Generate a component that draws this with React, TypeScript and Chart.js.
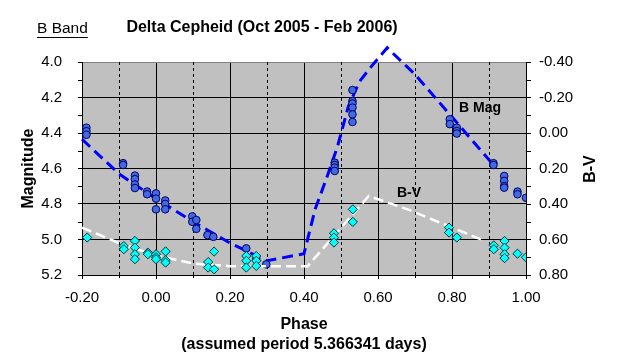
import React, { useEffect, useRef } from "react";
import { Chart, registerables } from "chart.js";

Chart.register(...registerables);

// ---- Data ----
const bMagPhase = [
  -0.188, -0.188, -0.188,
  -0.089, -0.089,
  -0.057, -0.057, -0.057, -0.057,
  -0.024, -0.024,
  0.0, 0.0, 0.0,
  0.025, 0.025, 0.025,
  0.098, 0.098,
  0.109, 0.109,
  0.139, 0.155,
  0.244, 0.271, 0.298,
  0.483, 0.483, 0.483, 0.483,
  0.531, 0.531, 0.531, 0.531, 0.531, 0.531,
  0.794, 0.794,
  0.813, 0.813, 0.813,
  0.912, 0.912,
  0.941, 0.941, 0.941, 0.941,
  0.977, 0.977,
  1.0,
];
const bMagValues = [
  4.37, 4.39, 4.41,
  4.57, 4.58,
  4.64, 4.66, 4.69, 4.71,
  4.73, 4.745,
  4.74, 4.77, 4.83,
  4.78, 4.8, 4.83,
  4.87, 4.9,
  4.89, 4.94,
  4.975, 4.985,
  5.05, 5.11, 5.14,
  4.567, 4.58, 4.595, 4.614,
  4.158, 4.22, 4.234, 4.257, 4.295, 4.338,
  4.323, 4.35,
  4.37, 4.389, 4.403,
  4.57, 4.58,
  4.642, 4.67, 4.699, 4.708,
  4.73, 4.745,
  4.765,
];

const bvPhase = [
  -0.186,
  -0.087, -0.087,
  -0.057, -0.057, -0.057, -0.057,
  -0.022, -0.022,
  0.0, 0.0, 0.0,
  0.026, 0.026, 0.026,
  0.141, 0.141,
  0.157, 0.157,
  0.244, 0.244, 0.244,
  0.271, 0.271, 0.271,
  0.481, 0.481, 0.481,
  0.532, 0.532,
  0.792, 0.792,
  0.813,
  0.913, 0.913,
  0.942, 0.942, 0.942, 0.942,
  0.977,
  1.0,
];
const bvValues = [
  0.589,
  0.637, 0.655,
  0.608, 0.646, 0.683, 0.711,
  0.674, 0.683,
  0.683, 0.7, 0.711,
  0.667, 0.717, 0.73,
  0.727, 0.758,
  0.668, 0.768,
  0.693, 0.72, 0.758,
  0.693, 0.72, 0.749,
  0.565, 0.589, 0.617,
  0.43, 0.501,
  0.533, 0.561,
  0.589,
  0.633, 0.655,
  0.608, 0.646, 0.683, 0.705,
  0.68,
  0.7,
];

// model curves (dashed lines)
const bModelPhase = [-0.2, -0.1, 0.0, 0.1, 0.2, 0.25, 0.3, 0.4, 0.43, 0.46, 0.49, 0.52, 0.55, 0.58, 0.625, 0.7, 0.8, 0.912];
const bModelValues = [4.435, 4.63, 4.77, 4.9, 5.02, 5.07, 5.12, 5.08, 4.83, 4.66, 4.48, 4.25, 4.11, 4.03, 3.92, 4.07, 4.31, 4.58];

const bvModelPhase = [-0.2, -0.1, 0.0, 0.1, 0.2, 0.41, 0.575, 0.68, 0.885];
const bvModelValues = [0.533, 0.62, 0.69, 0.735, 0.75, 0.75, 0.355, 0.43, 0.605];

const xMajorTicks = [-0.2, 0.0, 0.2, 0.4, 0.6, 0.8, 1.0];
const xDashedLines = [-0.1, 0.1, 0.3, 0.5, 0.7, 0.9];
const yMajorTicks = [4.0, 4.2, 4.4, 4.6, 4.8, 5.0, 5.2];
const yMinorTicks = [4.1, 4.3, 4.5, 4.7, 4.9, 5.1];
const y2MajorTicks = [-0.4, -0.2, 0.0, 0.2, 0.4, 0.6, 0.8];
const y2MinorTicks = [-0.3, -0.1, 0.1, 0.3, 0.5, 0.7];

const FONT = "'Liberation Sans', Arial, sans-serif";

const pts = (xs: number[], ys: number[]) => xs.map((x, i) => ({ x, y: ys[i] }));

const fmt = (v: number, d: number) => {
  const r = Math.abs(v) < 1e-9 ? 0 : v;
  return r.toFixed(d);
};

const decorPlugin = {
  id: "decor",
  beforeDraw(chart: any) {
    const { ctx, chartArea } = chart;
    ctx.save();
    ctx.fillStyle = "#ffffff";
    ctx.fillRect(0, 0, chart.width, chart.height);
    ctx.fillStyle = "#c0c0c0";
    ctx.fillRect(chartArea.left, chartArea.top, chartArea.right - chartArea.left, chartArea.bottom - chartArea.top);
    ctx.restore();
  },
  beforeDatasetsDraw(chart: any) {
    const { ctx, chartArea, scales } = chart;
    const xs = scales.x;
    const ys = scales.y;
    const y2s = scales.y2;
    ctx.save();
    ctx.strokeStyle = "#000000";
    ctx.lineWidth = 1;
    ctx.setLineDash([3, 3]);
    for (const v of xDashedLines) {
      const px = Math.round(xs.getPixelForValue(v)) + 0.5;
      ctx.beginPath();
      ctx.moveTo(px, chartArea.top);
      ctx.lineTo(px, chartArea.bottom);
      ctx.stroke();
    }
    ctx.setLineDash([]);
    for (const v of xDashedLines) {
      const px = Math.round(xs.getPixelForValue(v)) + 0.5;
      ctx.beginPath();
      ctx.moveTo(px, chartArea.bottom);
      ctx.lineTo(px, chartArea.bottom + 3);
      ctx.stroke();
    }
    for (const v of yMinorTicks) {
      const py = Math.round(ys.getPixelForValue(v)) + 0.5;
      ctx.beginPath();
      ctx.moveTo(chartArea.left - 4, py);
      ctx.lineTo(chartArea.left, py);
      ctx.stroke();
    }
    for (const v of y2MinorTicks) {
      const py = Math.round(y2s.getPixelForValue(v)) + 0.5;
      ctx.beginPath();
      ctx.moveTo(chartArea.right, py);
      ctx.lineTo(chartArea.right + 5, py);
      ctx.stroke();
    }
    ctx.restore();
  },
  afterDraw(chart: any) {
    const { ctx } = chart;
    ctx.save();
    ctx.fillStyle = "#000000";
    ctx.textBaseline = "middle";
    ctx.textAlign = "center";
    ctx.font = `bold 16px ${FONT}`;
    ctx.fillText("Delta Cepheid (Oct 2005 - Feb 2006)", 262, 28);
    ctx.textAlign = "left";
    ctx.font = `15.5px ${FONT}`;
    ctx.fillText("B Band", 37, 29);
    const w = ctx.measureText("B Band").width;
    ctx.fillRect(37, 37, w, 1);
    ctx.textAlign = "center";
    ctx.font = `bold 14px ${FONT}`;
    ctx.fillText("B Mag", 480, 108);
    ctx.fillText("B-V", 409, 193);
    ctx.translate(591, 169);
    ctx.rotate(-Math.PI / 2);
    ctx.font = `bold 16px ${FONT}`;
    ctx.fillText("B-V", 0, 0);
    ctx.restore();
  },
};

export default function App() {
  const canvasRef = useRef<HTMLCanvasElement | null>(null);

  useEffect(() => {
    const canvas = canvasRef.current;
    if (!canvas) return;
    const chart = new Chart(canvas, {
      type: "scatter",
      data: {
        datasets: [
          {
            label: "B-V",
            data: pts(bvPhase, bvValues),
            yAxisID: "y2",
            pointStyle: "rectRot",
            pointRadius: 4.6,
            pointBackgroundColor: "#00ffff",
            pointBorderColor: "#003838",
            pointBorderWidth: 1,
            showLine: false,
            order: 0,
          },
          {
            label: "B-V model",
            data: pts(bvModelPhase, bvModelValues),
            yAxisID: "y2",
            showLine: true,
            pointRadius: 0,
            borderColor: "#ffffff",
            borderWidth: 2.5,
            borderDash: [10, 5],
            tension: 0,
            order: 1,
          },
          {
            label: "B Mag",
            data: pts(bMagPhase, bMagValues),
            yAxisID: "y",
            pointStyle: "circle",
            pointRadius: 3.8,
            pointBackgroundColor: "#4169e1",
            pointBorderColor: "#000066",
            pointBorderWidth: 1,
            showLine: false,
            order: 2,
          },
          {
            label: "B model",
            data: pts(bModelPhase, bModelValues),
            yAxisID: "y",
            showLine: true,
            pointRadius: 0,
            borderColor: "#0000ff",
            borderWidth: 3,
            borderDash: [11, 6],
            tension: 0,
            clip: false as any,
            order: 3,
          },
        ],
      },
      options: {
        animation: false,
        responsive: false,
        maintainAspectRatio: false,
        devicePixelRatio: 1,
        layout: { padding: { top: 62, left: 0, right: 0, bottom: 0 } },
        plugins: {
          legend: { display: false },
          title: { display: false },
          tooltip: { enabled: false },
        },
        scales: {
          x: {
            type: "linear",
            min: -0.2,
            max: 1.0,
            afterBuildTicks: (s: any) => {
              s.ticks = xMajorTicks.map((v) => ({ value: v }));
            },
            afterFit: (s: any) => {
              s.height = 86;
            },
            ticks: {
              callback: (v: any) => fmt(Number(v), 2),
              font: { family: FONT, size: 15 },
              color: "#000000",
              padding: 10,
              maxRotation: 0,
              autoSkip: false,
            },
            grid: { color: "#000000", lineWidth: 1, tickLength: 4, tickColor: "#000000" },
            border: { color: "#000000", width: 1 },
            title: {
              display: true,
              text: ["Phase", "(assumed period 5.366341 days)"],
              font: { family: FONT, size: 16, weight: "bold", lineHeight: 1.25 },
              color: "#000000",
              padding: { top: 0, bottom: 6 },
            },
          },
          y: {
            type: "linear",
            position: "left",
            reverse: true,
            min: 4.0,
            max: 5.2,
            afterBuildTicks: (s: any) => {
              s.ticks = yMajorTicks.map((v) => ({ value: v }));
            },
            afterFit: (s: any) => {
              s.width = 82;
            },
            ticks: {
              callback: (v: any) => fmt(Number(v), 1),
              font: { family: FONT, size: 15 },
              color: "#000000",
              padding: 16,
              autoSkip: false,
            },
            grid: {
              color: (c: any) => (c.tick && Math.abs(c.tick.value - 4.0) < 1e-6 ? "#808080" : "#000000"),
              lineWidth: 1,
              tickLength: 4,
              tickColor: "#000000",
            },
            border: { color: "#000000", width: 1 },
            title: {
              display: true,
              text: "Magnitude",
              font: { family: FONT, size: 16, weight: "bold", lineHeight: 1.2 },
              color: "#000000",
              padding: { top: 19, bottom: 0 },
            },
          },
          y2: {
            type: "linear",
            position: "right",
            reverse: true,
            min: -0.4,
            max: 0.8,
            afterBuildTicks: (s: any) => {
              s.ticks = y2MajorTicks.map((v) => ({ value: v }));
            },
            afterFit: (s: any) => {
              s.width = 93;
            },
            ticks: {
              callback: (v: any) => fmt(Number(v), 2),
              font: { family: FONT, size: 15 },
              color: "#000000",
              padding: 8,
              autoSkip: false,
            },
            grid: { drawOnChartArea: false, tickLength: 5, tickColor: "#000000", color: "#000000" },
            border: { color: "#000000", width: 1 },
            title: { display: false },
          },
        },
      } as any,
      plugins: [decorPlugin],
    });
    return () => chart.destroy();
  }, []);

  return (
    <div style={{ position: "fixed", left: 0, top: 0, width: 619, height: 361, background: "#ffffff" }}>
      <canvas ref={canvasRef} width={619} height={361} style={{ display: "block", width: 619, height: 361 }} />
    </div>
  );
}
